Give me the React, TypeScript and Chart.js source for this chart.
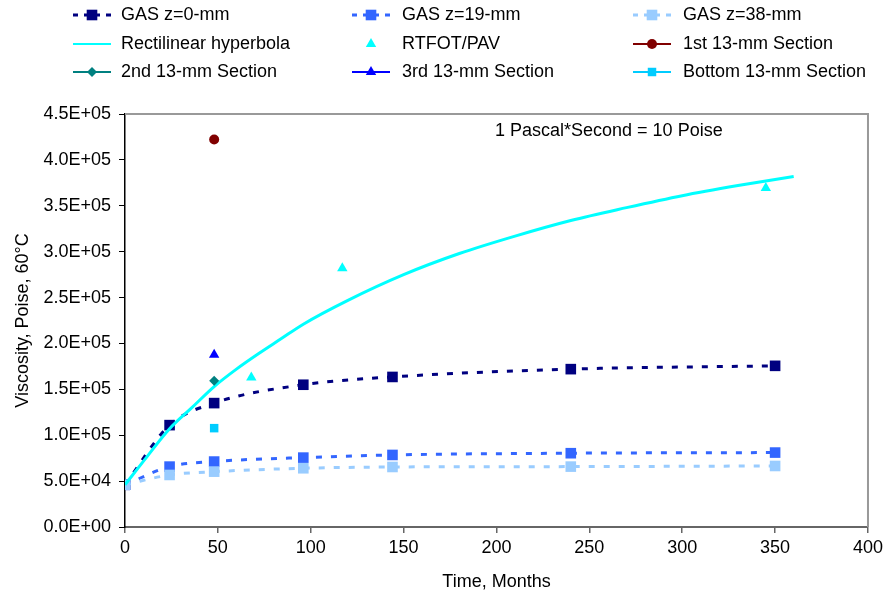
import React, { useEffect, useRef } from 'react';
import { Chart, registerables } from 'chart.js';

Chart.register(...registerables);

// ---- Data ----
const gasMonths = [0, 24, 48, 96, 144, 240, 350];
const gasZ0 = [46000, 111000, 135000, 155000, 163500, 172000, 175600];
const gasZ19 = [46000, 65800, 71300, 75600, 78500, 80400, 81100];
const gasZ38 = [46000, 56700, 60300, 64000, 65400, 65800, 66500];

const hyperMonths = [0, 12, 24, 36, 48, 60, 72, 84, 96, 120, 150, 180, 210, 240, 270, 300, 330, 360];
const hyperValues = [46000, 77000, 107000, 130000, 153000, 172000, 189000, 205000, 221000, 247000, 275000, 298000, 317000, 334000, 348000, 361000, 372000, 382000];

const rtfotMonths = [68, 117, 345];
const rtfotValues = [163000, 282000, 369500];

const sectionMonths = [48];
const section1st = [422300];
const section2nd = [159300];
const section3rd = [187600];
const sectionBottom = [107700];

const xTicks = [0, 50, 100, 150, 200, 250, 300, 350, 400];
const yTickLabels = ['0.0E+00', '5.0E+04', '1.0E+05', '1.5E+05', '2.0E+05', '2.5E+05', '3.0E+05', '3.5E+05', '4.0E+05', '4.5E+05'];

const seriesLabels = [
  'GAS z=0-mm', 'GAS z=19-mm', 'GAS z=38-mm',
  'Rectilinear hyperbola', 'RTFOT/PAV', '1st 13-mm Section',
  '2nd 13-mm Section', '3rd 13-mm Section', 'Bottom 13-mm Section',
];
const annotation = '1 Pascal*Second = 10 Poise';
const xTitle = 'Time, Months';
const yTitle = 'Viscosity, Poise, 60°C';

const FONT = "'Liberation Sans', Arial, sans-serif";
const FS = 18;

const pts = (xs: number[], ys: number[]) => xs.map((x, i) => ({ x, y: ys[i] }));

type LegendItem = { label: string; color: string; line: 'dash' | 'solid' | 'none'; style: string; r: number };

function drawMarker(ctx: CanvasRenderingContext2D, style: string, x: number, y: number, r: number, color: string) {
  ctx.save();
  ctx.fillStyle = color;
  ctx.beginPath();
  if (style === 'rect') {
    const s = r * Math.SQRT1_2;
    ctx.rect(x - s, y - s, 2 * s, 2 * s);
  } else if (style === 'circle') {
    ctx.arc(x, y, r, 0, Math.PI * 2);
  } else if (style === 'triangle') {
    let a = 0;
    ctx.moveTo(x + Math.sin(a) * r, y - Math.cos(a) * r);
    a += (2 * Math.PI) / 3;
    ctx.lineTo(x + Math.sin(a) * r, y - Math.cos(a) * r);
    a += (2 * Math.PI) / 3;
    ctx.lineTo(x + Math.sin(a) * r, y - Math.cos(a) * r);
    ctx.closePath();
  } else if (style === 'rectRot') {
    ctx.moveTo(x, y - r);
    ctx.lineTo(x + r, y);
    ctx.lineTo(x, y + r);
    ctx.lineTo(x - r, y);
    ctx.closePath();
  }
  ctx.fill();
  ctx.restore();
}

export default function App() {
  const ref = useRef<HTMLCanvasElement | null>(null);

  useEffect(() => {
    if (!ref.current) return;
    const colors = ['#000080', '#3366FF', '#99CCFF', '#00FFFF', '#00FFFF', '#800000', '#008080', '#0000FF', '#00CCFF'];
    const legendItems: LegendItem[] = [
      { label: seriesLabels[0], color: colors[0], line: 'dash', style: 'rect', r: 7.5 },
      { label: seriesLabels[1], color: colors[1], line: 'dash', style: 'rect', r: 7.5 },
      { label: seriesLabels[2], color: colors[2], line: 'dash', style: 'rect', r: 7.5 },
      { label: seriesLabels[3], color: colors[3], line: 'solid', style: 'none', r: 0 },
      { label: seriesLabels[4], color: colors[4], line: 'none', style: 'triangle', r: 6 },
      { label: seriesLabels[5], color: colors[5], line: 'solid', style: 'circle', r: 5 },
      { label: seriesLabels[6], color: colors[6], line: 'solid', style: 'rectRot', r: 5 },
      { label: seriesLabels[7], color: colors[7], line: 'solid', style: 'triangle', r: 6 },
      { label: seriesLabels[8], color: colors[8], line: 'solid', style: 'rect', r: 6 },
    ];

    const legendPlugin = {
      id: 'customLegend',
      afterDraw(chart: any) {
        const ctx: CanvasRenderingContext2D = chart.ctx;
        const colLine = [73, 352, 633];
        const lineLen = 38;
        const colText = [121, 402, 683];
        const rows = [15, 44, 72];
        ctx.save();
        legendItems.forEach((it, i) => {
          const c = i % 3;
          const rr = Math.floor(i / 3);
          const y = rows[rr];
          const x0 = colLine[c];
          const xm = x0 + lineLen / 2;
          if (it.line !== 'none') {
            ctx.save();
            ctx.strokeStyle = it.color;
            ctx.lineWidth = it.line === 'dash' ? 3 : 2;
            if (it.line === 'dash') ctx.setLineDash([5, 6]);
            ctx.beginPath();
            ctx.moveTo(x0, y);
            ctx.lineTo(x0 + lineLen, y);
            ctx.stroke();
            ctx.restore();
          }
          if (it.style !== 'none') drawMarker(ctx, it.style, xm, y, it.r, it.color);
          ctx.fillStyle = '#000';
          ctx.font = `${FS}px ${FONT}`;
          ctx.textBaseline = 'middle';
          ctx.textAlign = 'left';
          ctx.fillText(it.label, colText[c], y);
        });
        // annotation
        ctx.fillText(annotation, 495, 131);
        // plot border (top/right)
        const a = chart.chartArea;
        ctx.strokeStyle = '#999999';
        ctx.lineWidth = 2;
        ctx.beginPath();
        ctx.moveTo(a.left, a.top);
        ctx.lineTo(a.right, a.top);
        ctx.lineTo(a.right, a.bottom);
        ctx.stroke();
        ctx.restore();
      },
    };

    const gasCommon = {
      showLine: true,
      borderWidth: 3,
      borderDash: [6, 9],
      pointStyle: 'rect',
      pointRadius: 7.5,
      pointBorderWidth: 0,
      cubicInterpolationMode: 'monotone',
    };

    const chart = new Chart(ref.current, {
      type: 'scatter',
      data: {
        datasets: [
          { ...gasCommon, label: seriesLabels[0], data: pts(gasMonths, gasZ0), borderColor: colors[0], backgroundColor: colors[0], order: 9 },
          { ...gasCommon, label: seriesLabels[1], data: pts(gasMonths, gasZ19), borderColor: colors[1], backgroundColor: colors[1], order: 8 },
          { ...gasCommon, label: seriesLabels[2], data: pts(gasMonths, gasZ38), borderColor: colors[2], backgroundColor: colors[2], order: 7 },
          { label: seriesLabels[3], data: pts(hyperMonths, hyperValues), showLine: true, borderColor: colors[3], backgroundColor: colors[3], borderWidth: 3, pointRadius: 0, cubicInterpolationMode: 'monotone', order: 6 },
          { label: seriesLabels[4], data: pts(rtfotMonths, rtfotValues), showLine: false, pointStyle: 'triangle', pointRadius: 6, pointBorderWidth: 0, backgroundColor: colors[4], borderColor: colors[4], order: 5 },
          { label: seriesLabels[5], data: pts(sectionMonths, section1st), pointStyle: 'circle', pointRadius: 5, pointBorderWidth: 0, backgroundColor: colors[5], borderColor: colors[5], order: 4 },
          { label: seriesLabels[6], data: pts(sectionMonths, section2nd), pointStyle: 'rectRot', pointRadius: 5, pointBorderWidth: 0, backgroundColor: colors[6], borderColor: colors[6], order: 3 },
          { label: seriesLabels[7], data: pts(sectionMonths, section3rd), pointStyle: 'triangle', pointRadius: 6, pointBorderWidth: 0, backgroundColor: colors[7], borderColor: colors[7], order: 2 },
          { label: seriesLabels[8], data: pts(sectionMonths, sectionBottom), pointStyle: 'rect', pointRadius: 6, pointBorderWidth: 0, backgroundColor: colors[8], borderColor: colors[8], order: 1 },
        ] as any,
      },
      options: {
        responsive: false,
        animation: false,
        devicePixelRatio: 1,
        layout: { padding: { top: 114, right: 17, left: 0, bottom: 0 } },
        plugins: { legend: { display: false }, tooltip: { enabled: false } },
        scales: {
          x: {
            type: 'linear',
            min: 0,
            max: 400,
            afterBuildTicks: (s: any) => { s.ticks = xTicks.map((v) => ({ value: v })); },
            afterFit: (s: any) => { s.height = 70; },
            ticks: { font: { family: FONT, size: FS }, color: '#000', padding: 4 },
            grid: { drawOnChartArea: false, drawTicks: true, tickLength: 6, color: '#666', lineWidth: 1.5 },
            border: { color: '#666', width: 2 },
            title: { display: true, text: xTitle, font: { family: FONT, size: FS }, color: '#000', padding: { top: 4, bottom: 4 } },
          },
          y: {
            type: 'linear',
            min: 0,
            max: 450000,
            afterBuildTicks: (s: any) => { s.ticks = yTickLabels.map((_, i) => ({ value: i * 50000 })); },
            afterFit: (s: any) => { s.width = 125; },
            ticks: {
              font: { family: FONT, size: FS },
              color: '#000',
              padding: 8,
              callback: (_v: any, i: number) => yTickLabels[i],
            },
            grid: { drawOnChartArea: false, drawTicks: true, tickLength: 6, color: '#000', lineWidth: 1 },
            border: { color: '#000', width: 1.5 },
            title: { display: true, text: yTitle, font: { family: FONT, size: FS }, color: '#000', padding: { top: 12, bottom: 4 } },
          },
        },
      } as any,
      plugins: [legendPlugin],
    });
    return () => chart.destroy();
  }, []);

  return (
    <div style={{ position: 'absolute', left: 0, top: 0, width: 887, height: 597, background: '#fff' }}>
      <canvas ref={ref} width={887} height={597} />
    </div>
  );
}
